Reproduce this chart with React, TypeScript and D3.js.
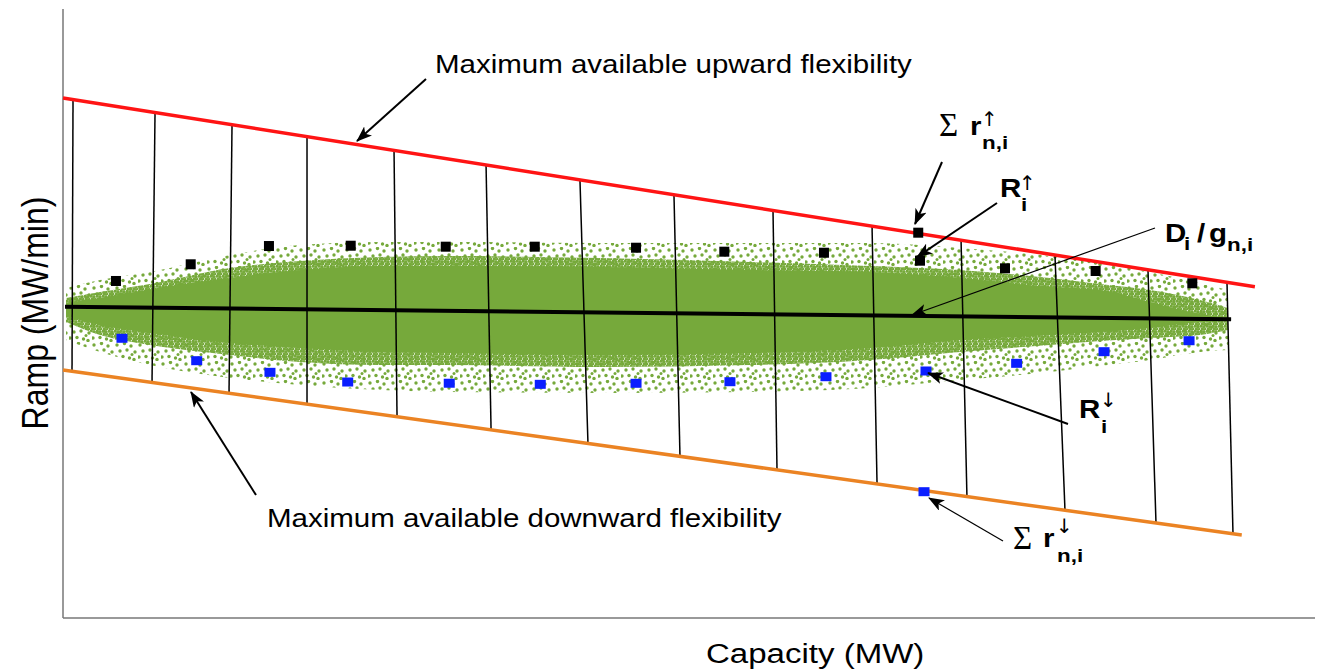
import React from 'react';
import * as d3 from 'd3';

const W = 1327;
const H = 670;

// Capacity (% of range) positions of the sampled cloud envelope
const cloudX = [0.24, 2.96, 6.95, 13.34, 18.93, 25.32, 30.91, 42.89, 54.87, 64.46, 71.65, 78.83, 82.83, 86.82, 90.81, 93.05];
// Ramp envelope of the scatter cloud (outer sparse fringe, dense fringe, solid core)
const outerTop = [4.19, 5.5, 6.81, 9.61, 11.25, 11.74, 11.74, 11.58, 11.58, 11.58, 10.76, 9.44, 8.29, 6.81, 5.01, 3.86];
const innerTop = [2.55, 3.53, 4.84, 7.47, 8.62, 9.28, 9.44, 9.11, 8.46, 7.8, 7.14, 5.83, 4.84, 3.86, 2.22, 0.9];
const coreTop = [1.72, 2.55, 4.0, 5.83, 7.14, 7.8, 7.8, 7.64, 7.14, 6.81, 5.83, 4.35, 3.86, 1.89, -0.08, -0.74];
const coreBottom = [-0.41, -1.89, -3.2, -4.84, -5.67, -6.32, -6.49, -6.81, -6.49, -5.67, -4.35, -3.53, -3.04, -2.38, -1.4, -1.23];
const innerBottom = [-1.4, -3.53, -5.17, -6.81, -7.96, -8.46, -8.46, -8.78, -8.46, -7.64, -6.32, -5.17, -4.51, -4.02, -3.53, -2.71];
const outerBottom = [-4.35, -6.32, -8.46, -10.59, -11.74, -12.56, -12.89, -13.05, -12.89, -12.23, -10.92, -9.61, -8.62, -7.64, -6.32, -5.99];

// max upward / downward flexibility and the mean ramp line
const upperX = [0, 95.2];
const upperY = [35.39, 4.4];
const lowerX = [0, 94.15];
const lowerY = [-9.28, -36.37];
const meanX = [0.16, 93.3];
const meanY = [1.12, -0.95];

// bin separators (top on upper line, bottom on lower line)
const binTopX = [0.8, 7.35, 13.5, 19.49, 26.44, 33.79, 41.29, 48.8, 56.71, 64.62, 71.73, 79.23, 86.66, 92.97];
const binTopY = [35.12, 32.99, 30.99, 29.05, 26.78, 24.38, 21.95, 19.51, 16.93, 14.35, 12.04, 9.61, 7.18, 5.12];
const binBotX = [0.72, 7.11, 13.26, 19.49, 26.68, 34.19, 41.93, 49.28, 57.03, 65.02, 72.2, 80.03, 87.3, 93.45];
const binBotY = [-9.49, -11.33, -13.09, -14.88, -16.95, -19.11, -21.33, -23.45, -25.68, -27.98, -30.05, -32.3, -34.38, -36.16];

// R up (black) and R down (blue) per bin
const rUpX = [4.23, 10.2, 16.45, 22.98, 30.57, 37.68, 45.77, 52.82, 60.78, 68.45, 75.24, 82.48, 90.2];
const rUpY = [5.34, 8.08, 11.08, 11.13, 10.97, 10.97, 10.8, 10.15, 9.98, 8.67, 7.42, 6.98, 4.96];
const rDownX = [4.71, 10.68, 16.53, 22.74, 30.85, 38.12, 45.77, 53.27, 60.94, 68.93, 76.17, 83.15, 89.94];
const rDownY = [-4.07, -7.75, -9.66, -11.25, -11.45, -11.63, -11.46, -11.2, -10.38, -9.44, -8.18, -6.27, -4.47];

// sum of unit reserves for one bin
const sumUpX = [68.31];
const sumUpY = [13.27];
const sumDownX = [68.77];
const sumDownY = [-29.26];

const SANS = 'Liberation Sans, Arial, Helvetica, sans-serif';
const SERIF = 'Liberation Serif, Times New Roman, serif';
const ARROWS = 'DejaVu Sans';
const UP = '\u2191\uFE0E';
const DOWN = '\u2193\uFE0E';
const SX = 1.18; // figure text is slightly stretched horizontally

const tr = (x: number, y: number) => `translate(${x},${y}) scale(${SX},1)`;

const Arrow = ({ x1, y1, x2, y2, w = 2 }: { x1: number; y1: number; x2: number; y2: number; w?: number }) => (
  <line x1={x1} y1={y1} x2={x2} y2={y2} stroke="#000" strokeWidth={w} markerEnd="url(#head)" />
);

const App = () => {
  const x = d3.scaleLinear().domain([0, 100]).range([63, 1315]);
  const y = d3.scaleLinear().domain([-50, 50]).range([618, 9]);

  const idx = cloudX.map((_, i) => i);
  const band = (top: number[], bot: number[]) =>
    d3
      .area<number>()
      .x((i) => x(cloudX[i]))
      .y0((i) => y(bot[i]))
      .y1((i) => y(top[i]))
      .curve(d3.curveMonotoneX)(idx) || '';

  const line2 = (xs: number[], ys: number[]) =>
    d3
      .line<number>()
      .x((i) => x(xs[i]))
      .y((i) => y(ys[i]))(xs.map((_, i) => i)) || '';

  const green = '#76a93b';

  return (
    <svg width={W} height={H} style={{ position: 'absolute', left: 0, top: 0, background: '#fff' }}>
      <defs>
        <pattern id="sparse" width="23" height="19" patternUnits="userSpaceOnUse">
          <circle cx="2" cy="3" r="1.7" fill={green} />
          <circle cx="9.5" cy="1.5" r="1.7" fill={green} />
          <circle cx="16" cy="4" r="1.7" fill={green} />
          <circle cx="5" cy="9" r="1.7" fill={green} />
          <circle cx="12" cy="8" r="1.7" fill={green} />
          <circle cx="20" cy="10" r="1.7" fill={green} />
          <circle cx="1" cy="15" r="1.7" fill={green} />
          <circle cx="8" cy="14.5" r="1.7" fill={green} />
          <circle cx="14.5" cy="16" r="1.7" fill={green} />
          <circle cx="19" cy="17.5" r="1.7" fill={green} />
          <circle cx="17" cy="12.5" r="1.5" fill={green} />
        </pattern>
        <pattern id="dense" width="6" height="5" patternUnits="userSpaceOnUse">
          <circle cx="1" cy="1" r="1.8" fill={green} />
          <circle cx="4" cy="1.8" r="1.8" fill={green} />
          <circle cx="2.3" cy="4" r="1.8" fill={green} />
          <circle cx="5.5" cy="4.6" r="1.8" fill={green} />
        </pattern>
        <marker id="head" viewBox="0 0 16 12" refX="15" refY="6" markerWidth="16" markerHeight="12"
          markerUnits="userSpaceOnUse" orient="auto">
          <path d="M0,0 L16,6 L0,12 L4,6 Z" fill="#000" />
        </marker>
      </defs>

      {/* axes */}
      <line x1={x(0)} x2={x(0)} y1={y(50)} y2={y(-50)} stroke="#777" strokeWidth={1.5} />
      <line x1={x(0)} x2={x(100)} y1={y(-50)} y2={y(-50)} stroke="#777" strokeWidth={1.5} />

      {/* scatter cloud */}
      <path d={band(outerTop, outerBottom)} fill="url(#sparse)" />
      <path d={band(innerTop, innerBottom)} fill="url(#dense)" />
      <path d={band(coreTop, coreBottom)} fill={green} />

      {/* bin separators */}
      {binTopX.map((_, i) => (
        <line key={i} x1={x(binTopX[i])} y1={y(binTopY[i])} x2={x(binBotX[i])} y2={y(binBotY[i])}
          stroke="#000" strokeWidth={1.5} />
      ))}

      {/* mean line */}
      <path d={line2(meanX, meanY)} stroke="#000" strokeWidth={4} fill="none" />

      {/* flexibility limits */}
      <path d={line2(upperX, upperY)} stroke="#ff1414" strokeWidth={3.5} fill="none" />
      <path d={line2(lowerX, lowerY)} stroke="#eb8323" strokeWidth={3.5} fill="none" />

      {/* R markers */}
      {rUpX.map((v, i) => (
        <rect key={'u' + i} x={x(v) - 5} y={y(rUpY[i]) - 5} width={10} height={10} fill="#000" />
      ))}
      {rDownX.map((v, i) => (
        <rect key={'d' + i} x={x(v) - 5.5} y={y(rDownY[i]) - 4.5} width={11} height={9} fill="#0a1eff" />
      ))}
      {sumUpX.map((v, i) => (
        <rect key={'su' + i} x={x(v) - 5} y={y(sumUpY[i]) - 5} width={10} height={10} fill="#000" />
      ))}
      {sumDownX.map((v, i) => (
        <rect key={'sd' + i} x={x(v) - 5.5} y={y(sumDownY[i]) - 4.5} width={11} height={9} fill="#0a1eff" />
      ))}

      {/* annotations */}
      <g fontFamily={SANS} fill="#000">
        <text transform={tr(435, 73)} fontSize={25}>Maximum available upward flexibility</text>
        <Arrow x1={426} y1={79} x2={357} y2={141} />

        <text transform={tr(267, 527)} fontSize={25}>Maximum available downward flexibility</text>
        <Arrow x1={256} y1={495} x2={191} y2={392} />

        {/* Σ r↑ n,i */}
        <text x={939} y={136} fontFamily={SERIF} fontSize={33}>Σ</text>
        <text transform={tr(970, 135)} fontSize={25} fontWeight="bold">r</text>
        <text x={981} y={126} fontFamily={ARROWS} fontSize={20} fill="#000">{UP}</text>
        <text transform={tr(982, 149)} fontSize={19} fontWeight="bold">n,i</text>
        <Arrow x1={942} y1={162} x2={915} y2={224} />

        {/* R↑ i */}
        <text transform={tr(1000, 197)} fontSize={25} fontWeight="bold">R</text>
        <text x={1019} y={190} fontFamily={ARROWS} fontSize={20} fill="#000">{UP}</text>
        <text transform={tr(1021, 211)} fontSize={19} fontWeight="bold">i</text>
        <Arrow x1={997} y1={203} x2={917} y2={257} />

        {/* D_i / g_n,i */}
        <text transform={tr(1165, 242)} fontSize={25} fontWeight="bold">D</text>
        <text transform={tr(1184, 250)} fontSize={19} fontWeight="bold">i</text>
        <text transform={tr(1197, 242)} fontSize={25} fontWeight="bold">/</text>
        <text transform={tr(1209, 242)} fontSize={25} fontWeight="bold">g</text>
        <text transform={tr(1227, 251)} fontSize={19} fontWeight="bold">n,i</text>
        <Arrow x1={1155} y1={228} x2={912} y2={315} w={1.2} />

        {/* R↓ i */}
        <text transform={tr(1079, 418)} fontSize={25} fontWeight="bold">R</text>
        <text x={1100} y={407} fontFamily={ARROWS} fontSize={20} fill="#000">{DOWN}</text>
        <text transform={tr(1101, 433)} fontSize={19} fontWeight="bold">i</text>
        <Arrow x1={1068} y1={424} x2={928} y2={373} />

        {/* Σ r↓ n,i */}
        <text x={1013} y={549} fontFamily={SERIF} fontSize={33}>Σ</text>
        <text transform={tr(1043, 547)} fontSize={25} fontWeight="bold">r</text>
        <text x={1056} y={533} fontFamily={ARROWS} fontSize={20} fill="#000">{DOWN}</text>
        <text transform={tr(1057, 562)} fontSize={19} fontWeight="bold">n,i</text>
        <Arrow x1={1003} y1={541} x2={929} y2={498} w={1.2} />

        {/* axis labels */}
        <text transform={tr(706, 663)} fontSize={28}>Capacity (MW)</text>
        <text transform={`translate(48,313) scale(${SX},1) rotate(-90)`} fontSize={32} textAnchor="middle">
          Ramp (MW/min)
        </text>
      </g>
    </svg>
  );
};

export default App;
